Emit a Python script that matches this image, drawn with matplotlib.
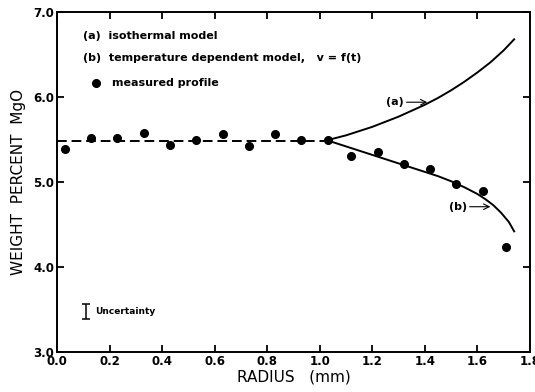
import matplotlib
matplotlib.use("Agg")
import matplotlib.pyplot as plt

# measured MgO profile
radius_pts = [0.03, 0.13, 0.23, 0.33, 0.43, 0.53, 0.63, 0.73, 0.83, 0.93,
              1.03, 1.12, 1.22, 1.32, 1.42, 1.52, 1.62, 1.71]
mgo_pts = [5.39, 5.52, 5.52, 5.58, 5.44, 5.49, 5.57, 5.43, 5.57, 5.50,
           5.50, 5.31, 5.35, 5.21, 5.15, 4.98, 4.89, 4.24]

# flat initial part (dashed)
flat_r = [0.0, 1.03]
flat_y = [5.48, 5.48]

# (a) isothermal model
a_r = [1.03, 1.05, 1.1, 1.15, 1.2, 1.25, 1.3, 1.35, 1.4, 1.45, 1.5,
       1.55, 1.6, 1.65, 1.7, 1.74]
a_y = [5.49, 5.51, 5.55, 5.60, 5.65, 5.71, 5.77, 5.84, 5.91, 5.99, 6.08,
       6.18, 6.29, 6.41, 6.55, 6.68]

# (b) temperature dependent model
b_r = [1.03, 1.05, 1.1, 1.15, 1.2, 1.25, 1.3, 1.35, 1.4, 1.45, 1.5,
       1.55, 1.6, 1.63, 1.66, 1.69, 1.72, 1.74]
b_y = [5.49, 5.47, 5.42, 5.37, 5.32, 5.27, 5.22, 5.17, 5.12, 5.07, 5.01,
       4.94, 4.86, 4.80, 4.73, 4.64, 4.53, 4.42]

fig = plt.figure(figsize=(5.35, 3.92), dpi=100)
ax = fig.add_axes([0.1065, 0.102, 0.884, 0.867])

ax.plot(flat_r, flat_y, color="black", lw=1.4, ls=(0, (5, 2.5)))
ax.plot(a_r, a_y, color="black", lw=1.4)
ax.plot(b_r, b_y, color="black", lw=1.4)
ax.plot(radius_pts, mgo_pts, "o", color="black", ms=5.5)

ax.set_xlim(0, 1.8)
ax.set_ylim(3.0, 7.0)
ax.set_xticks([0.0, 0.2, 0.4, 0.6, 0.8, 1.0, 1.2, 1.4, 1.6, 1.8])
ax.set_xticklabels(["0.0", "0.2", "0.4", "0.6", "0.8", "1.0", "1.2", "1.4", "1.6", "1.8"])
ax.set_yticks([3.0, 4.0, 5.0, 6.0, 7.0])
ax.set_yticklabels(["3.0", "4.0", "5.0", "6.0", "7.0"])
ax.tick_params(direction="in", length=5, width=1.3, top=True, right=True,
               labelsize=8.5, pad=2)
for lab in ax.get_xticklabels() + ax.get_yticklabels():
    lab.set_fontweight("bold")
for sp in ax.spines.values():
    sp.set_linewidth(1.4)

ax.set_xlabel("RADIUS   (mm)", fontsize=11, labelpad=1)
ax.set_ylabel("WEIGHT  PERCENT  MgO", fontsize=11, labelpad=5)

# legend text
ax.text(0.10, 6.72, "(a)  isothermal model", fontsize=8, fontweight="bold", va="center")
ax.text(0.10, 6.46, "(b)  temperature dependent model,   v = f(t)", fontsize=8,
        fontweight="bold", va="center")
ax.plot([0.147], [6.17], "o", color="black", ms=5.5)
ax.text(0.21, 6.17, "measured profile", fontsize=8, fontweight="bold", va="center")

# curve labels with arrows
ax.annotate("", xy=(1.42, 5.94), xytext=(1.32, 5.94),
            arrowprops=dict(arrowstyle="->", color="black", lw=0.8))
ax.text(1.32, 5.94, "(a)", fontsize=8, fontweight="bold", ha="right", va="center")
ax.annotate("", xy=(1.66, 4.71), xytext=(1.56, 4.71),
            arrowprops=dict(arrowstyle="->", color="black", lw=0.8))
ax.text(1.56, 4.71, "(b)", fontsize=8, fontweight="bold", ha="right", va="center")

# uncertainty bar
ax.errorbar([0.11], [3.48], yerr=0.09, color="black", capsize=3, lw=1.1, capthick=1.1)
ax.text(0.145, 3.48, "Uncertainty", fontsize=6.5, fontweight="bold", va="center")

fig.savefig("out.png", dpi=100)
